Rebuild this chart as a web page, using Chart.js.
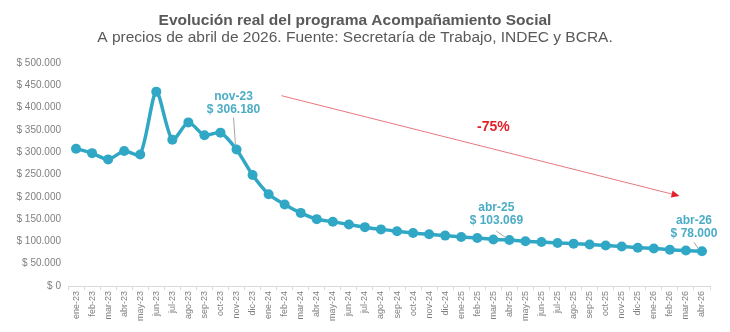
<!DOCTYPE html>
<html lang="es">
<head>
<meta charset="utf-8">
<title>Evolución real del programa Acompañamiento Social</title>
<script src="https://cdn.jsdelivr.net/npm/chart.js@4.4.1/dist/chart.umd.min.js"></script>
<style>
  html, body { margin: 0; padding: 0; background: #fff; }
  #wrap { width: 730px; height: 332px; position: relative; }
</style>
</head>
<body>
<div id="wrap"><canvas id="acompChart"></canvas></div>
<script>
// Meses (ene-23 a abr-26)
const months = [
  'ene-23', 'feb-23', 'mar-23', 'abr-23', 'may-23', 'jun-23', 'jul-23', 'ago-23', 'sep-23', 'oct-23', 'nov-23', 'dic-23',
  'ene-24', 'feb-24', 'mar-24', 'abr-24', 'may-24', 'jun-24', 'jul-24', 'ago-24', 'sep-24', 'oct-24', 'nov-24', 'dic-24',
  'ene-25', 'feb-25', 'mar-25', 'abr-25', 'may-25', 'jun-25', 'jul-25', 'ago-25', 'sep-25', 'oct-25', 'nov-25', 'dic-25',
  'ene-26', 'feb-26', 'mar-26', 'abr-26'
];

// Monto real del programa, a precios de abril de 2026
const realAmount = [
  308000, 298000, 284000, 303000, 295000, 436000, 328000, 367000, 338000, 344000, 306180, 249000,
  206000, 183000, 164000, 150000, 144000, 138000, 132000, 127000, 123000, 119000, 116000, 113000,
  110000, 107500, 104500, 103069, 100500, 98500, 96500, 95000, 93000, 91000, 88500, 86000,
  84000, 81500, 79500, 78000
];

// Eje Y
const yTicks = [0, 50000, 100000, 150000, 200000, 250000, 300000, 350000, 400000, 450000, 500000];

// Meses destacados con su valor
const highlighted = ['nov-23', 'abr-25', 'abr-26'];

const LINE_COLOR = '#31a7c6';
const LABEL_COLOR = '#4bacc6';
const TEXT_GREY = '#595959';
const RED = '#e3202a';
const FONT = '"Liberation Sans", Arial, sans-serif';

function pesos(v) {
  return '$ ' + String(Math.round(v)).replace(/\B(?=(\d{3})+(?!\d))/g, '.');
}

// Desplazamientos de cada rótulo respecto de su punto (px)
const calloutOffsets = {
  'nov-23': { text: [-3, -53], leader: [[-3, -32], [-1, -4]] },
  'abr-25': { text: [-13, -32], leader: [[-13, -9], [-3, -2]] },
  'abr-26': { text: [-8, -31], leader: [[-8, -9], [-4, -3]] }
};

// Flecha de tendencia, en coordenadas de los ejes (índice de mes, monto)
const trendArrow = { from: [12.8, 427000], to: [37.6, 202000], labelAt: [26.0, 357000] };

const annotations = {
  id: 'annotations',
  afterDatasetsDraw(chart) {
    const { ctx, scales: { x, y } } = chart;
    ctx.save();

    // rótulos con línea guía
    highlighted.forEach(m => {
      const i = months.indexOf(m);
      const px = x.getPixelForValue(i);
      const py = y.getPixelForValue(realAmount[i]);
      const o = calloutOffsets[m];

      ctx.strokeStyle = '#a6a6a6';
      ctx.lineWidth = 1;
      ctx.beginPath();
      ctx.moveTo(px + o.leader[0][0], py + o.leader[0][1]);
      ctx.lineTo(px + o.leader[1][0], py + o.leader[1][1]);
      ctx.stroke();

      ctx.fillStyle = LABEL_COLOR;
      ctx.font = 'bold 12px ' + FONT;
      ctx.textAlign = 'center';
      ctx.textBaseline = 'middle';
      ctx.fillText(m, px + o.text[0], py + o.text[1]);
      ctx.fillText(pesos(realAmount[i]), px + o.text[0], py + o.text[1] + 13);
    });

    // flecha de caída
    const x1 = x.getPixelForValue(trendArrow.from[0]), y1 = y.getPixelForValue(trendArrow.from[1]);
    const x2 = x.getPixelForValue(trendArrow.to[0]), y2 = y.getPixelForValue(trendArrow.to[1]);
    const ang = Math.atan2(y2 - y1, x2 - x1);
    ctx.strokeStyle = '#e9777e';
    ctx.lineWidth = 1;
    ctx.beginPath();
    ctx.moveTo(x1, y1);
    ctx.lineTo(x2 - 5 * Math.cos(ang), y2 - 5 * Math.sin(ang));
    ctx.stroke();
    ctx.fillStyle = RED;
    ctx.beginPath();
    ctx.moveTo(x2, y2);
    ctx.lineTo(x2 - 8 * Math.cos(ang) + 3.5 * Math.sin(ang), y2 - 8 * Math.sin(ang) - 3.5 * Math.cos(ang));
    ctx.lineTo(x2 - 8 * Math.cos(ang) - 3.5 * Math.sin(ang), y2 - 8 * Math.sin(ang) + 3.5 * Math.cos(ang));
    ctx.closePath();
    ctx.fill();

    // variación entre nov-23 y el último mes
    const base = realAmount[months.indexOf('nov-23')];
    const last = realAmount[realAmount.length - 1];
    const change = Math.round((last / base - 1) * 100);
    ctx.font = 'bold 14px ' + FONT;
    ctx.textAlign = 'center';
    ctx.textBaseline = 'middle';
    ctx.fillText(change + '%', x.getPixelForValue(trendArrow.labelAt[0]), y.getPixelForValue(trendArrow.labelAt[1]));

    ctx.restore();
  }
};

const ctx = document.getElementById('acompChart').getContext('2d');
new Chart(ctx, {
  type: 'line',
  data: {
    labels: months,
    datasets: [{
      data: realAmount,
      borderColor: LINE_COLOR,
      backgroundColor: LINE_COLOR,
      borderWidth: 3.5,
      pointRadius: 5,
      pointBorderWidth: 0,
      pointBackgroundColor: LINE_COLOR,
      tension: 0.25,
      clip: false
    }]
  },
  options: {
    responsive: true,
    maintainAspectRatio: false,
    animation: false,
    layout: { padding: { left: 0, right: 20, top: 0, bottom: 0 } },
    plugins: {
      legend: { display: false },
      tooltip: { enabled: false },
      title: {
        display: true,
        text: 'Evolución real del programa Acompañamiento Social',
        color: TEXT_GREY,
        font: { family: FONT, size: 15.5, weight: 'bold', lineHeight: 1 },
        padding: { top: 13, bottom: 0 }
      },
      subtitle: {
        display: true,
        text: 'A precios de abril de 2026. Fuente: Secretaría de Trabajo, INDEC y BCRA.',
        color: TEXT_GREY,
        font: { family: FONT, size: 15.5, lineHeight: 1.2 },
        padding: { top: 0, bottom: 16 }
      }
    },
    scales: {
      x: {
        offset: true,
        grid: { display: true, offset: true, drawOnChartArea: false, drawTicks: true, tickLength: 4, color: '#d9d9d9' },
        border: { display: true, color: '#d9d9d9' },
        ticks: {
          color: '#7f7f7f',
          font: { family: FONT, size: 9 },
          minRotation: 90,
          maxRotation: 90,
          autoSkip: false,
          padding: 1
        },
        afterFit(scale) { scale.height = 46; }
      },
      y: {
        min: 0,
        max: 500000,
        afterBuildTicks(scale) { scale.ticks = yTicks.map(v => ({ value: v })); },
        grid: { display: false, drawTicks: false },
        border: { display: false },
        ticks: {
          color: '#7f7f7f',
          font: { family: FONT, size: 10 },
          padding: 7,
          callback: v => pesos(v)
        },
        afterFit(scale) { scale.width = 68; }
      }
    }
  },
  plugins: [annotations]
});
</script>
</body>
</html>
